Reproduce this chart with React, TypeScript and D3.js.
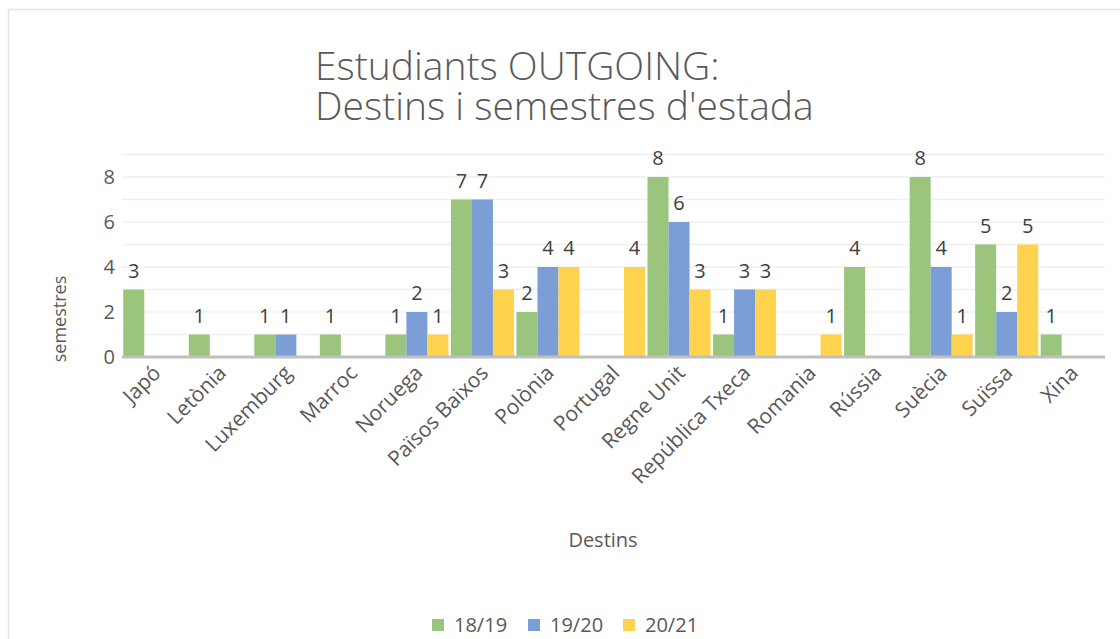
import React, { useEffect, useRef } from "react";
import * as d3 from "d3";

const categories = [
  "Japó", "Letònia", "Luxemburg", "Marroc", "Noruega", "Països Baixos", "Polònia",
  "Portugal", "Regne Unit", "República Txeca", "Romania", "Rússia", "Suècia", "Suïssa", "Xina",
];
const seriesNames = ["18/19", "19/20", "20/21"];
const s1819: (number | null)[] = [3, 1, 1, 1, 1, 7, 2, null, 8, 1, null, 4, 8, 5, 1];
const s1920: (number | null)[] = [null, null, 1, null, 2, 7, 4, null, 6, 3, null, null, 4, 2, null];
const s2021: (number | null)[] = [null, null, null, null, 1, 3, 4, 4, 3, 3, 1, null, 1, 5, null];
const yTicks = [0, 2, 4, 6, 8];
const gridValues = [1, 2, 3, 4, 5, 6, 7, 8, 9];
const colors = ["#9BC47C", "#7B9ED6", "#FFD34D"];

const FONT = "'Open Sans', 'Noto Sans', sans-serif";

export default function App() {
  const ref = useRef<SVGSVGElement>(null);
  useEffect(() => {
    const svg = d3.select(ref.current);
    svg.selectAll("*").remove();
    const W = 1120, H = 639;
    const left = 122, right = 1105, top = 154.5, bottom = 357;

    // border
    svg.append("line").attr("x1", 8).attr("x2", W).attr("y1", 9.5).attr("y2", 9.5).attr("stroke", "#E3E3E3").attr("stroke-width", 1.5);
    svg.append("line").attr("x1", 8.5).attr("x2", 8.5).attr("y1", 9).attr("y2", H).attr("stroke", "#E3E3E3").attr("stroke-width", 1.5);

    const y = d3.scaleLinear().domain([0, 9]).range([bottom, top]);
    const x = d3.scaleBand<string>().domain(categories).range([left, right]).paddingInner(0).paddingOuter(0);
    const bw = x.bandwidth();
    const xs = d3.scaleBand<string>().domain(seriesNames).range([1.25, bw - 1.25]).padding(0);

    // gridlines
    svg.append("g").selectAll("line").data(gridValues).join("line")
      .attr("x1", left).attr("x2", right)
      .attr("y1", (d) => y(d)).attr("y2", (d) => y(d))
      .attr("stroke", "#EFEFEF").attr("stroke-width", 1.5);

    // y tick labels
    svg.append("g").selectAll("text").data(yTicks).join("text")
      .attr("x", 115).attr("y", (d) => y(d)).attr("dy", "0.35em")
      .attr("text-anchor", "end").attr("font-family", FONT).attr("font-size", 20)
      .attr("fill", "#595959").text((d) => d);

    const all = [s1819, s1920, s2021];
    all.forEach((vals, si) => {
      const g = svg.append("g");
      const data = categories.map((c, i) => ({ c, v: vals[i] })).filter((d) => d.v !== null) as { c: string; v: number }[];
      g.selectAll("rect").data(data).join("rect")
        .attr("x", (d) => (x(d.c) as number) + (xs(seriesNames[si]) as number))
        .attr("width", xs.bandwidth())
        .attr("y", (d) => y(d.v))
        .attr("height", (d) => bottom - y(d.v))
        .attr("fill", colors[si]);
      g.selectAll("text").data(data).join("text")
        .attr("x", (d) => (x(d.c) as number) + (xs(seriesNames[si]) as number) + xs.bandwidth() / 2)
        .attr("y", (d) => y(d.v) - 12)
        .attr("text-anchor", "middle").attr("font-family", FONT).attr("font-size", 20)
        .attr("fill", "#404040").text((d) => d.v);
    });

    // axis line
    svg.append("line").attr("x1", left).attr("x2", right).attr("y1", bottom).attr("y2", bottom)
      .attr("stroke", "#BFBFBF").attr("stroke-width", 3);

    // x labels
    svg.append("g").selectAll("text").data(categories).join("text")
      .attr("transform", (d) => `translate(${(x(d) as number) + bw / 2 + 2},${bottom + 12}) rotate(-45)`)
      .attr("text-anchor", "end").attr("dy", "0.35em").attr("font-family", FONT).attr("font-size", 21)
      .attr("fill", "#595959").text((d) => d);

    // title
    svg.append("text").attr("x", 315).attr("y", 80).attr("font-family", FONT).attr("font-weight", 300)
      .attr("font-size", 39).attr("fill", "#595959").text("Estudiants OUTGOING:");
    svg.append("text").attr("x", 315).attr("y", 120).attr("font-family", FONT).attr("font-weight", 300)
      .attr("font-size", 39).attr("fill", "#595959").text("Destins i semestres d'estada");

    // axis titles
    svg.append("text").attr("transform", `translate(66,319) rotate(-90)`).attr("text-anchor", "middle")
      .attr("font-family", FONT).attr("font-size", 18).attr("fill", "#595959").text("semestres");
    svg.append("text").attr("x", 603).attr("y", 547).attr("text-anchor", "middle")
      .attr("font-family", FONT).attr("font-size", 20).attr("fill", "#595959").text("Destins");

    // legend
    const legX = [432, 528, 623];
    const lg = svg.append("g");
    seriesNames.forEach((n, i) => {
      lg.append("rect").attr("x", legX[i]).attr("y", 619).attr("width", 12).attr("height", 12).attr("fill", colors[i]);
      lg.append("text").attr("x", legX[i] + 22).attr("y", 625).attr("dy", "0.35em")
        .attr("font-family", FONT).attr("font-size", 20).attr("fill", "#595959").text(n);
    });
  }, []);
  return (
    <svg ref={ref} width={1120} height={639} style={{ position: "absolute", left: 0, top: 0, background: "#fff" }} />
  );
}
